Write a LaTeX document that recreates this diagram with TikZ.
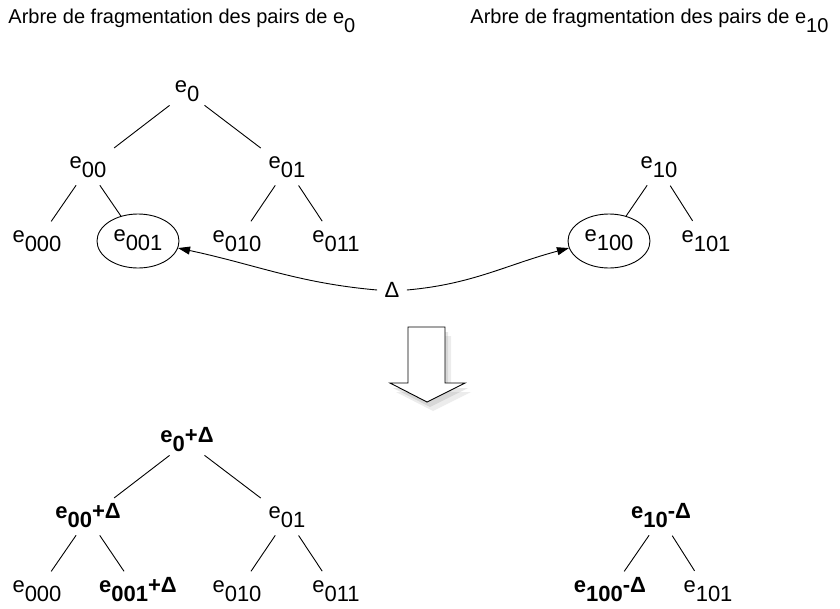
\documentclass[tikz,border=0pt]{standalone}
\usepackage{fontspec}
\setmainfont{Liberation Sans}
\usetikzlibrary{arrows.meta,shapes.geometric,shadows}

\newcommand{\lo}[1]{\raisebox{-9pt}{#1}}

\begin{document}
\begin{tikzpicture}[x=1pt,y=-1pt,line width=0.9pt,
   lbl/.style={font=\fontsize{22}{26}\selectfont,inner sep=0pt,text height=12pt,text depth=12pt},
   hot/.style={lbl,font=\fontsize{22}{26}\selectfont\bfseries},
   ttl/.style={font=\fontsize{20}{24}\selectfont,inner sep=0pt,anchor=base west},
   circled/.style={lbl,ellipse,draw,minimum width=82pt,minimum height=54pt},
   trunk/.style={shorten <=22pt,shorten >=33pt},
   branch/.style={shorten <=21pt,shorten >=25pt},
   arr/.style={-{Triangle[length=12pt,width=8pt]}}]
   \useasboundingbox (0,0) rectangle (840,608);

   \node[ttl] (t0) at (8,23) {Arbre de fragmentation des pairs de e\lo{0}};
   \node[ttl] (t10) at (470,23) {Arbre de fragmentation des pairs de e\lo{10}};

   % before
   \node[lbl] (e0) at (187,92) {e\lo{0}};
   \node[lbl] (e00) at (88,168) {e\lo{00}};
   \node[lbl] (e01) at (287,168) {e\lo{01}};
   \node[lbl] (e000) at (37,242) {e\lo{000}};
   \node[circled] (e001) at (138,241) {e\lo{001}};
   \node[lbl] (e010) at (237,242) {e\lo{010}};
   \node[lbl] (e011) at (336,242) {e\lo{011}};
   \node[lbl] (e10) at (659,168) {e\lo{10}};
   \node[circled] (e100) at (609,241) {e\lo{100}};
   \node[lbl] (e101) at (706,242) {e\lo{101}};
   \path[draw]
    (e0.center) edge[trunk] (e00.center)
                edge[trunk] (e01.center)
    (e00.center) edge[branch] (e000.center)
                 edge[shorten <=21pt] (e001)
    (e01.center) edge[branch] (e010.center)
                 edge[branch] (e011.center)
    (e10.center) edge[shorten <=21pt] (e100)
                 edge[branch] (e101.center);

   \node[font=\fontsize{22}{26}\selectfont,inner xsep=7pt,inner ysep=0pt] (d) at (392,290) {Δ};
   \draw[arr] (d.west) to[out=175,in=-12] (e001.-10);
   \draw[arr] (d.east) to[out=5,in=195] (e100.190);

   \draw[fill=white,
         drop shadow={opacity=0.15,shadow xshift=6pt,shadow yshift=-9pt},
         drop shadow={opacity=0.2,shadow xshift=3pt,shadow yshift=-5pt}]
     (408,327) -- (445,327) -- (445,383) -- (465,383) -- (427,402) -- (390,383) -- (408,383) -- cycle;

   % after
   \node[hot] (n0) at (187,442) {e\lo{0}+Δ};
   \node[hot] (n00) at (88,518) {e\lo{00}+Δ};
   \node[lbl] (n01) at (287,518) {e\lo{01}};
   \node[lbl] (n000) at (37,592) {e\lo{000}};
   \node[hot] (n001) at (138,592) {e\lo{001}+Δ};
   \node[lbl] (n010) at (237,592) {e\lo{010}};
   \node[lbl] (n011) at (336,592) {e\lo{011}};
   \node[hot] (n10) at (661,518) {e\lo{10}-Δ};
   \node[hot] (n100) at (610,592) {e\lo{100}-Δ};
   \node[lbl] (n101) at (708,592) {e\lo{101}};
   \path[draw]
    (n0.center) edge[trunk] (n00.center)
                edge[trunk] (n01.center)
    (n00.center) edge[branch] (n000.center)
                 edge[branch] (n001.center)
    (n01.center) edge[branch] (n010.center)
                 edge[branch] (n011.center)
    (n10.center) edge[branch] (n100.center)
                 edge[branch] (n101.center);
\end{tikzpicture}
\end{document}
